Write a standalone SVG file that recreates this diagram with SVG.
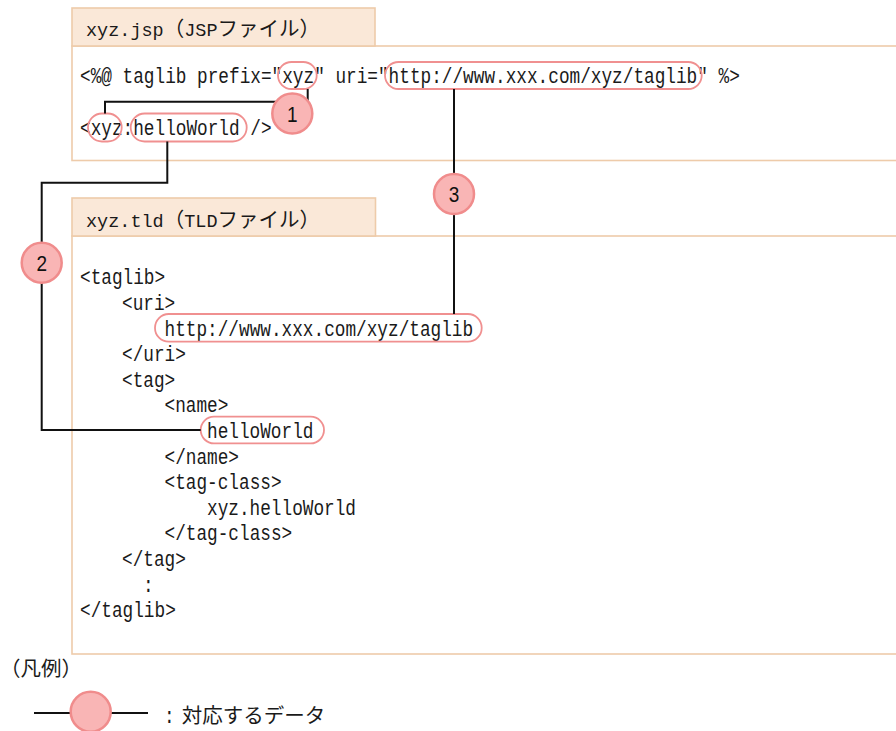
<svg xmlns="http://www.w3.org/2000/svg" width="896" height="731" viewBox="0 0 896 731">
<style>
.tab{fill:#FAE8D8;stroke:#EECBAA;stroke-width:1.6}
.box{fill:#FFFFFF;stroke:#EECBAA;stroke-width:1.6}
.code{font-family:"Liberation Mono","Noto Sans CJK JP",monospace;font-size:17.75px;fill:#1a1a1a}
.title{font-family:"Liberation Mono","Noto Sans CJK JP",monospace;font-size:18.5px;fill:#1a1a1a}
.jp{font-family:"Noto Sans CJK JP",sans-serif;font-size:20.5px;fill:#1a1a1a}
.hl{fill:none;stroke:#F09090;stroke-width:1.8}
.conn{fill:none;stroke:#111111;stroke-width:2}
.mark{fill:#F9B5B5;stroke:#F08C8C;stroke-width:2.5}
.num{font-family:"Liberation Sans",Arial,sans-serif;font-size:19px;fill:#111111;text-anchor:middle}
</style>
<rect width="896" height="731" fill="#FFFFFF"/>
<g id="jsp-file">
  <rect class="box" x="72" y="46" width="840" height="114.5"/>
  <rect class="tab" x="72" y="8" width="303" height="38"/>
  <text class="title" x="86" y="36">xyz.jsp<tspan class="jp">（</tspan>JSP<tspan class="jp">ファイル）</tspan></text>
  <text class="code" transform="translate(80,83) scale(1,1.22)">&lt;%@ taglib prefix="xyz" uri="http://www.xxx.com/xyz/taglib" %&gt;</text>
  <text class="code" transform="translate(80,135) scale(1,1.22)">&lt;xyz:helloWorld /&gt;</text>
  <rect class="hl" x="278" y="62" width="38.7" height="27" rx="13.5"/>
  <rect class="hl" x="385" y="62" width="316.7" height="27" rx="13.5"/>
  <rect class="hl" x="88" y="113.5" width="33.7" height="28" rx="14"/>
  <rect class="hl" x="130.7" y="113.5" width="116" height="28" rx="14"/>
</g>
<g id="tld-file">
  <rect class="box" x="72" y="236" width="840" height="418"/>
  <rect class="tab" x="72" y="198" width="303.5" height="38"/>
  <text class="title" x="86" y="226.5">xyz.tld<tspan class="jp">（</tspan>TLD<tspan class="jp">ファイル）</tspan></text>
  <text class="code" transform="translate(80,284.4) scale(1,1.22)">&lt;taglib&gt;</text>
  <text class="code" transform="translate(122,310) scale(1,1.22)">&lt;uri&gt;</text>
  <text class="code" transform="translate(164.5,335.6) scale(1,1.22)">http://www.xxx.com/xyz/taglib</text>
  <text class="code" transform="translate(122,361.2) scale(1,1.22)">&lt;/uri&gt;</text>
  <text class="code" transform="translate(122,386.8) scale(1,1.22)">&lt;tag&gt;</text>
  <text class="code" transform="translate(164.5,412.4) scale(1,1.22)">&lt;name&gt;</text>
  <text class="code" transform="translate(207,438) scale(1,1.22)">helloWorld</text>
  <text class="code" transform="translate(164.5,463.6) scale(1,1.22)">&lt;/name&gt;</text>
  <text class="code" transform="translate(164.5,489.2) scale(1,1.22)">&lt;tag-class&gt;</text>
  <text class="code" transform="translate(207,514.8) scale(1,1.22)">xyz.helloWorld</text>
  <text class="code" transform="translate(164.5,540.4) scale(1,1.22)">&lt;/tag-class&gt;</text>
  <text class="code" transform="translate(122,566) scale(1,1.22)">&lt;/tag&gt;</text>
  <text class="code" transform="translate(143,591.6) scale(1,1.22)">:</text>
  <text class="code" transform="translate(80,617.2) scale(1,1.22)">&lt;/taglib&gt;</text>
  <rect class="hl" x="155" y="314" width="326.7" height="27.7" rx="13.8"/>
  <rect class="hl" x="200.7" y="416.7" width="123.3" height="26.7" rx="13.3"/>
</g>
<g id="connectors">
  <path class="conn" d="M307.7,89 V101.7 H105 V113.5"/>
  <path class="conn" d="M167.3,141.5 V182.7 H41.7 V430 H200.7"/>
  <path class="conn" d="M454,89 V314"/>
</g>
<g id="mark-1">
  <circle class="mark" cx="292.3" cy="113.5" r="20"/>
  <text class="num" transform="translate(292.3,121.5) scale(1,1.2)">1</text>
</g>
<g id="mark-2">
  <circle class="mark" cx="41.7" cy="262.7" r="20"/>
  <text class="num" transform="translate(41.7,270.7) scale(1,1.2)">2</text>
</g>
<g id="mark-3">
  <circle class="mark" cx="454" cy="194" r="20"/>
  <text class="num" transform="translate(454,202) scale(1,1.2)">3</text>
</g>
<g id="legend">
  <text class="jp" x="0" y="676">（凡例）</text>
  <path class="conn" d="M34,713 H148"/>
  <circle class="mark" cx="90.7" cy="711.7" r="20"/>
  <text class="code" transform="translate(164,723) scale(1,1.22)">:</text>
  <text class="jp" x="181.7" y="723">対応するデータ</text>
</g>
</svg>
